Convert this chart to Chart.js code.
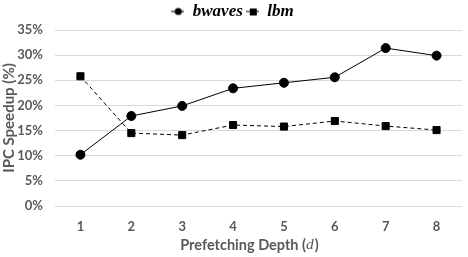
<!DOCTYPE html>
<html>
<head>
<meta charset="utf-8">
<script src="https://cdn.jsdelivr.net/npm/chart.js@4"></script>
<style>
  html, body { margin: 0; padding: 0; background: #fff; }
  #wrap { width: 468px; height: 257px; }
</style>
</head>
<body>
<div id="wrap"><canvas id="speedupChart" width="468" height="257"></canvas></div>
<script>
const depths = ["1", "2", "3", "4", "5", "6", "7", "8"];
const bwaves = [10.2, 17.9, 19.9, 23.4, 24.5, 25.6, 31.4, 29.9];
const lbm = [25.8, 14.5, 14.1, 16.1, 15.8, 16.9, 15.9, 15.1];
const yTicks = [0, 5, 10, 15, 20, 25, 30, 35];

const grey = "#595959";

// legend marker: short line with the point shape on it
function legendIcon(shape) {
  const c = document.createElement("canvas");
  c.width = 13; c.height = 10;
  const g = c.getContext("2d");
  g.strokeStyle = "#000";
  g.lineWidth = 1;
  g.beginPath(); g.moveTo(0, 5); g.lineTo(13, 5); g.stroke();
  g.fillStyle = "#000";
  if (shape === "circle") {
    g.beginPath(); g.arc(7, 5, 3.6, 0, Math.PI * 2); g.fill();
  } else {
    g.fillRect(4, 2, 7, 7);
  }
  return c;
}

// x axis title with italic d (centred a bit left of the plot, like the original)
const xTitle = {
  id: "xTitle",
  afterDraw(chart) {
    const ctx = chart.ctx;
    const a = chart.chartArea;
    const cx = (a.left + a.right) / 2 - 9;
    const y = 245;
    const f1 = "bold 14.5px Lato";
    const f2 = "italic 15.5px 'Liberation Serif'";
    const p1 = "Prefetching Depth (", p2 = "d", p3 = ")";
    ctx.save();
    ctx.fillStyle = grey;
    ctx.textBaseline = "middle";
    ctx.font = f1; const w1 = ctx.measureText(p1).width, w3 = ctx.measureText(p3).width;
    ctx.font = f2; const w2 = ctx.measureText(p2).width + 1;
    let x = cx - (w1 + w2 + w3) / 2;
    ctx.textAlign = "left";
    ctx.font = f1; ctx.fillText(p1, x, y); x += w1;
    ctx.font = f2; ctx.fillText(p2, x, y); x += w2;
    ctx.font = f1; ctx.fillText(p3, x, y);
    ctx.restore();
  }
};

new Chart(document.getElementById("speedupChart"), {
  type: "line",
  data: {
    labels: depths,
    datasets: [
      {
        label: "bwaves",
        data: bwaves,
        borderColor: "#000",
        backgroundColor: "#000",
        borderWidth: 1,
        pointStyle: "circle",
        pointRadius: 4.5,
        pointHoverRadius: 4.5,
      },
      {
        label: "lbm",
        data: lbm,
        borderColor: "#000",
        backgroundColor: "#000",
        borderWidth: 1,
        borderDash: [4, 3],
        pointStyle: "rect",
        pointRadius: 5,
        pointHoverRadius: 5,
      },
    ],
  },
  options: {
    responsive: false,
    animation: false,
    layout: { padding: { top: 0, right: 3, bottom: 0, left: 0 } },
    plugins: {
      tooltip: { enabled: false },
      legend: {
        position: "top",
        labels: {
          color: "#333",
          font: { family: "'Liberation Serif'", size: 17, style: "italic", weight: "bold" },
          usePointStyle: true,
          boxWidth: 13,
          boxHeight: 10,
          padding: 3,
          generateLabels: (chart) => [
            { text: "bwaves", pointStyle: legendIcon("circle"), fillStyle: "#000", strokeStyle: "#000", lineWidth: 0, datasetIndex: 0 },
            { text: "lbm", pointStyle: legendIcon("rect"), fillStyle: "#000", strokeStyle: "#000", lineWidth: 0, datasetIndex: 1 },
          ],
        },
      },
    },
    scales: {
      x: {
        offset: true,
        grid: { display: false },
        border: { display: false },
        ticks: { color: grey, font: { family: "Lato", size: 13, weight: "bold" }, padding: 5 },
        afterFit: (s) => { s.height = 51; },
      },
      y: {
        min: 0,
        max: 35,
        afterBuildTicks: (s) => { s.ticks = yTicks.map((v) => ({ value: v })); },
        grid: { color: "#d9d9d9", drawTicks: false },
        border: { display: false },
        ticks: {
          color: grey,
          font: { family: "Lato", size: 13, weight: "bold" },
          padding: 12,
          callback: (v) => v + "%",
        },
        title: {
          display: true,
          text: "IPC Speedup (%)",
          color: grey,
          font: { family: "Lato", size: 15, weight: "bold" },
          padding: { top: 0, bottom: 0 },
        },
        afterFit: (s) => { s.width = 55; },
      },
    },
  },
  plugins: [xTitle],
});
</script>
</body>
</html>
